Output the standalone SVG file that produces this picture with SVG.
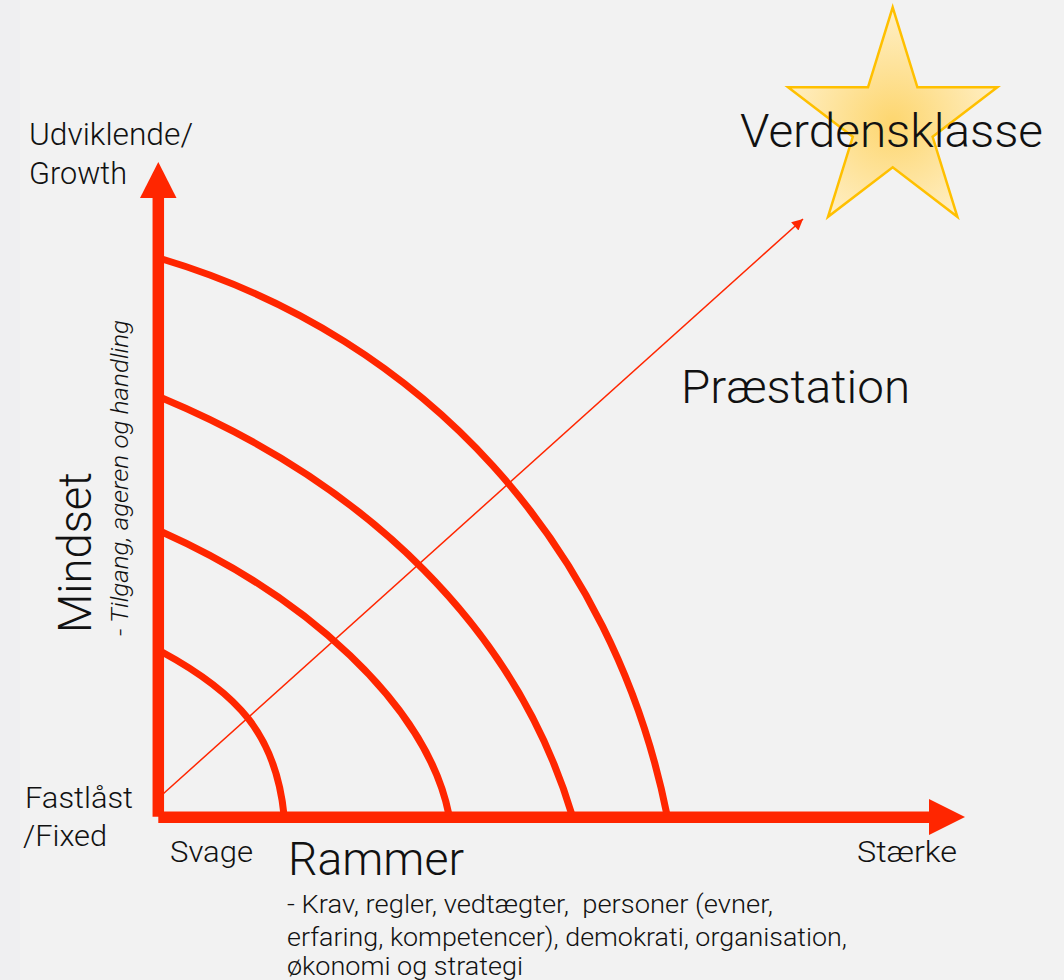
<svg xmlns="http://www.w3.org/2000/svg" width="1064" height="980" viewBox="0 0 1064 980">
  <defs>
    <style>
      .t { font-family: Roboto, "Liberation Sans", sans-serif; fill: #111111; font-weight: 300; }
      .axis { stroke: #ff2600; stroke-width: 11.5; fill: none; stroke-linecap: butt; }
      .head { fill: #ff2600; }
      .arc { stroke: #ff2600; stroke-width: 7; fill: none; stroke-linecap: butt; }
      .diag { stroke: #ff2600; stroke-width: 1.5; fill: none; }
    </style>
    <radialGradient id="starFill" cx="0.5" cy="0.55" r="0.55">
      <stop offset="0" stop-color="#fdd66f"/>
      <stop offset="1" stop-color="#fff0c8"/>
    </radialGradient>
    <marker id="arrowSmall" viewBox="0 0 10 10" refX="10" refY="5" markerWidth="15" markerHeight="11" markerUnits="userSpaceOnUse" orient="auto">
      <path d="M0,0 L10,5 L0,10 z" fill="#ff2600"/>
    </marker>
  </defs>

  <g id="background">
    <rect x="0" y="0" width="1064" height="980" fill="#f2f2f2"/>
    <rect x="0" y="0" width="20" height="980" fill="#efeff1"/>
  </g>

  <g id="axes">
    <line class="axis" x1="158.3" y1="816.7" x2="158.3" y2="196"/>
    <polygon class="head" points="158.3,162 176.5,198 140,198"/>
    <line class="axis" x1="158.3" y1="817.2" x2="931" y2="817.2"/>
    <polygon class="head" points="965,817 929,799 929,835"/>
  </g>

  <g id="arcs">
    <path class="arc" d="M162,652 C238,693.25 276,735 284,815"/>
    <path class="arc" d="M162,532 C303,595 427,704 449,815"/>
    <path class="arc" d="M162,398 C368,484.1 516.5,630 572,815"/>
    <path class="arc" d="M162,259 C425,337.6 613.4,547 667,815"/>
  </g>

  <g id="connectors">
    <line class="diag" x1="163" y1="794" x2="803" y2="219" marker-end="url(#arrowSmall)"/>
  </g>

  <g id="star">
    <polygon points="892.7,7.3 917.4,87.3 997.3,87.3 932.6,136.8 957.4,216.8 892.7,167.3 828,216.8 852.8,136.8 788.1,87.3 868,87.3" fill="url(#starFill)" stroke="#ffc000" stroke-width="2.5" stroke-linejoin="miter"/>
  </g>

  <g id="label-verdensklasse">
    <text class="t" x="740" y="147" font-size="46" textLength="303" lengthAdjust="spacingAndGlyphs">Verdensklasse</text>
  </g>

  <g id="label-praestation">
    <text class="t" x="681" y="403" font-size="46" textLength="229" lengthAdjust="spacingAndGlyphs">Præstation</text>
  </g>

  <g id="label-growth">
    <text class="t" x="29" y="145" font-size="31" textLength="164" lengthAdjust="spacingAndGlyphs">Udviklende/</text>
    <text class="t" x="29" y="184" font-size="31" textLength="98" lengthAdjust="spacingAndGlyphs">Growth</text>
  </g>

  <g id="label-mindset">
    <text class="t" transform="translate(91,633) rotate(-90)" font-size="46" textLength="161" lengthAdjust="spacingAndGlyphs">Mindset</text>
    <text class="t" transform="translate(128,636) rotate(-90)" font-size="24" font-style="italic" textLength="316" lengthAdjust="spacingAndGlyphs">- Tilgang, ageren og handling</text>
  </g>

  <g id="label-fixed">
    <text class="t" x="25" y="808" font-size="29" textLength="108" lengthAdjust="spacingAndGlyphs">Fastlåst</text>
    <text class="t" x="23" y="846" font-size="29" textLength="84" lengthAdjust="spacingAndGlyphs">/Fixed</text>
  </g>

  <g id="label-svage">
    <text class="t" x="170" y="862" font-size="29" textLength="83" lengthAdjust="spacingAndGlyphs">Svage</text>
  </g>

  <g id="label-staerke">
    <text class="t" x="857" y="862" font-size="29" textLength="100" lengthAdjust="spacingAndGlyphs">Stærke</text>
  </g>

  <g id="label-rammer">
    <text class="t" x="288" y="875" font-size="46" textLength="176" lengthAdjust="spacingAndGlyphs">Rammer</text>
    <text class="t" x="287" y="913" font-size="26.5" textLength="486" lengthAdjust="spacingAndGlyphs" xml:space="preserve">- Krav, regler, vedtægter,  personer (evner,</text>
    <text class="t" x="287" y="946" font-size="26.5" textLength="560" lengthAdjust="spacingAndGlyphs">erfaring, kompetencer), demokrati, organisation,</text>
    <text class="t" x="287" y="975" font-size="26.5" textLength="236" lengthAdjust="spacingAndGlyphs">økonomi og strategi</text>
  </g>
</svg>
